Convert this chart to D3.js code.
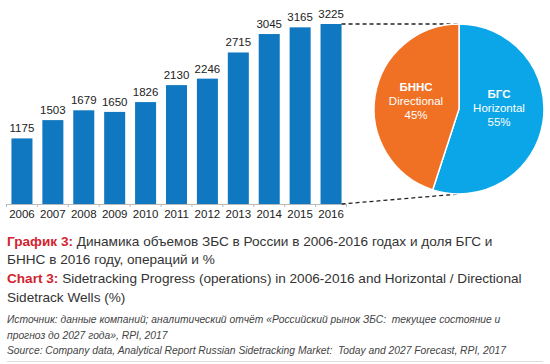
<!DOCTYPE html>
<html>
<head>
<meta charset="utf-8">
<script src="https://cdn.jsdelivr.net/npm/d3@7"></script>
<style>
  body { margin: 0; background: #fff; }
  svg { display: block; font-family: "Liberation Sans", Arial, sans-serif; }
  .src { white-space: pre; }
</style>
</head>
<body>
<svg id="chart" width="550" height="364"></svg>
<script>
const years = ['2006', '2007', '2008', '2009', '2010', '2011', '2012', '2013', '2014', '2015', '2016'];
const operations = [1175, 1503, 1679, 1650, 1826, 2130, 2246, 2715, 3045, 3165, 3225];

const shareNames = ['БГС', 'БННС'];
const shareLabels = ['Horizontal', 'Directional'];
const shareValues = [55, 45];

const captionRu = ['Динамика объемов ЗБС в России в 2006-2016 годах и доля БГС и', 'БННС в 2016 году, операций и %'];
const captionEn = ['Sidetracking Progress (operations) in 2006-2016 and Horizontal / Directional', 'Sidetrack Wells (%)'];
const sourceLines = [
  'Источник: данные компаний; аналитический отчёт «Российский рынок ЗБС:  текущее состояние и',
  'прогноз до 2027 года», RPI, 2017',
  'Source: Company data, Analytical Report Russian Sidetracking Market:  Today and 2027 Forecast, RPI, 2017'
];

const svg = d3.select('#chart');

// bars
const x = d3.scaleBand().domain(years).range([6.5, 346.5]).paddingInner(0.32).paddingOuter(0.16);
const y = d3.scaleLinear().domain([0, 3225]).range([204, 24]);

svg.selectAll('.bar')
  .data(years)
  .enter()
  .append('rect')
  .attr('class', 'bar')
  .attr('x', d => x(d))
  .attr('y', (d, i) => y(operations[i]))
  .attr('width', x.bandwidth())
  .attr('height', (d, i) => y(0) - y(operations[i]))
  .attr('fill', '#0f78c1');

svg.selectAll('.val')
  .data(years)
  .enter()
  .append('text')
  .attr('class', 'val')
  .attr('x', d => x(d) + x.bandwidth() / 2)
  .attr('y', (d, i) => y(operations[i]) - 6)
  .attr('text-anchor', 'middle')
  .attr('font-size', 11.5)
  .attr('fill', '#222')
  .text((d, i) => operations[i]);

// baseline with ticks between bars
svg.append('line')
  .attr('x1', x.range()[0]).attr('x2', x.range()[1])
  .attr('y1', y(0) + 0.5).attr('y2', y(0) + 0.5)
  .attr('stroke', '#bbb');
svg.selectAll('.tick')
  .data(years.concat(['end']))
  .enter()
  .append('line')
  .attr('x1', (d, i) => x.range()[0] + i * x.step())
  .attr('x2', (d, i) => x.range()[0] + i * x.step())
  .attr('y1', y(0)).attr('y2', y(0) + 3)
  .attr('stroke', '#bbb');

svg.selectAll('.year')
  .data(years)
  .enter()
  .append('text')
  .attr('class', 'year')
  .attr('x', d => x(d) + x.bandwidth() / 2)
  .attr('y', y(0) + 14)
  .attr('text-anchor', 'middle')
  .attr('font-size', 11.5)
  .attr('fill', '#222')
  .text(d => d);

// pie
const cx = 459, cy = 109, r = 85;
const pie = d3.pie().sort(null).value(d => d);
const arc = d3.arc().innerRadius(0).outerRadius(r);
const colors = ['#0ba6e8', '#f07124'];

// connectors from last bar to pie
const lastRight = x('2016') + x.bandwidth();
svg.append('line')
  .attr('x1', lastRight).attr('y1', y(3225))
  .attr('x2', cx).attr('y2', cy - r)
  .attr('stroke', '#222').attr('stroke-width', 1.3).attr('stroke-dasharray', '4,3');
svg.append('line')
  .attr('x1', lastRight).attr('y1', y(0))
  .attr('x2', cx).attr('y2', cy + r)
  .attr('stroke', '#222').attr('stroke-width', 1.3).attr('stroke-dasharray', '4,3');

const g = svg.append('g').attr('transform', `translate(${cx},${cy})`);
g.selectAll('path')
  .data(pie(shareValues))
  .enter()
  .append('path')
  .attr('d', arc)
  .attr('fill', (d, i) => colors[i])
  .attr('stroke', '#fff')
  .attr('stroke-width', 1.5);

const labelPos = [[40, -11], [-43, -18]];
shareNames.forEach((name, i) => {
  const t = g.append('text')
    .attr('text-anchor', 'middle')
    .attr('fill', '#fff')
    .attr('font-size', 11.5)
    .attr('transform', `translate(${labelPos[i][0]},${labelPos[i][1]})`);
  t.append('tspan').attr('x', 0).attr('dy', 0).attr('font-weight', 'bold').text(name);
  t.append('tspan').attr('x', 0).attr('dy', 14).text(shareLabels[i]);
  t.append('tspan').attr('x', 0).attr('dy', 14).text(shareValues[i] + '%');
});

// caption
const cap = svg.append('g').attr('font-size', 13.6).attr('fill', '#333');
const l1 = cap.append('text').attr('x', 7).attr('y', 246);
l1.append('tspan').attr('fill', '#d2232f').attr('font-weight', 'bold').text('График 3: ');
l1.append('tspan').text(captionRu[0]);
cap.append('text').attr('x', 7).attr('y', 264).text(captionRu[1]);
const l3 = cap.append('text').attr('x', 7).attr('y', 283);
l3.append('tspan').attr('fill', '#d2232f').attr('font-weight', 'bold').text('Chart 3: ');
l3.append('tspan').text(captionEn[0]);
cap.append('text').attr('x', 7).attr('y', 302).text(captionEn[1]);

svg.selectAll('.src')
  .data(sourceLines)
  .enter()
  .append('text')
  .attr('class', 'src')
  .attr('x', 7)
  .attr('y', (d, i) => 323 + i * 15.5)
  .attr('font-size', 10.3)
  .attr('font-style', 'italic')
  .attr('fill', '#444')
  .text(d => d);

svg.append('line')
  .attr('x1', 7).attr('x2', 543)
  .attr('y1', 361.5).attr('y2', 361.5)
  .attr('stroke', '#ddd');
</script>
</body>
</html>
